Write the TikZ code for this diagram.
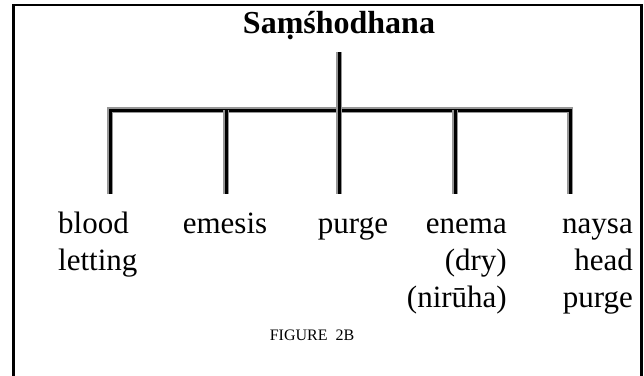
\documentclass[tikz,border=0pt]{standalone}
\usepackage{fontspec}
\setmainfont{Liberation Serif}
\usetikzlibrary{positioning}
\definecolor{linkgray}{RGB}{150, 150, 150}
\tikzset{
  branch/.style={line width=3pt, black, line join=miter,
    preaction={draw, linkgray, line width=6pt}},
  leaf/.style={inner sep=0pt, font=\fontsize{31}{37}\selectfont},
}

\begin{document}
\begin{tikzpicture}[x=1pt, y=-1pt]
  \useasboundingbox (0, 0) rectangle (644, 375);
  % Rahmen
  \draw[line width=2.5pt] (13.5, 376) -- (13.5, 5) -- (641.5, 5) -- (641.5, 376);

  % Wurzel
  \node[inner sep=0pt, anchor=base, font=\fontsize{32}{38}\selectfont\bfseries] (root) at (339, 33) {Saṃśhodhana};
  \coordinate (hub) at (339, 110);
  \coordinate (top) at (339, 52);

  % Äste
  \coordinate (b1) at (110, 110);  \coordinate (e1) at (110, 194);
  \coordinate (b2) at (226, 110);  \coordinate (e2) at (226, 194);
  \coordinate (b3) at (339, 110);  \coordinate (e3) at (339, 194);
  \coordinate (b4) at (455, 110);  \coordinate (e4) at (455, 194);
  \coordinate (b5) at (570, 110);  \coordinate (e5) at (570, 194);
  \draw[branch] (e1) -- (b1) -- (b5) -- (e5);
  \draw[branch] (b2) -- (e2);
  \draw[branch] (b4) -- (e4);
  \draw[branch] (top) -- (hub) -- (e3);

  % Blätter (Grundlinie der letzten Zeile)
  \node[leaf, anchor=base west, align=left] (blood) at (58, 270) {blood\\letting};
  \node[leaf, anchor=base] (emesis) at (225, 233) {emesis};
  \node[leaf, anchor=base] (purge) at (353, 233) {purge};
  \node[leaf, anchor=base east, align=right] (enema) at (507, 307) {enema\\(dry)\\(nirūha)};
  \node[leaf, anchor=base east, align=right] (naysa) at (633, 307) {naysa\\head\\purge};

  \node[inner sep=0pt, anchor=base, font=\fontsize{16}{19}\selectfont] (caption) at (312, 340) {FIGURE\ \ 2B};
\end{tikzpicture}
\end{document}
